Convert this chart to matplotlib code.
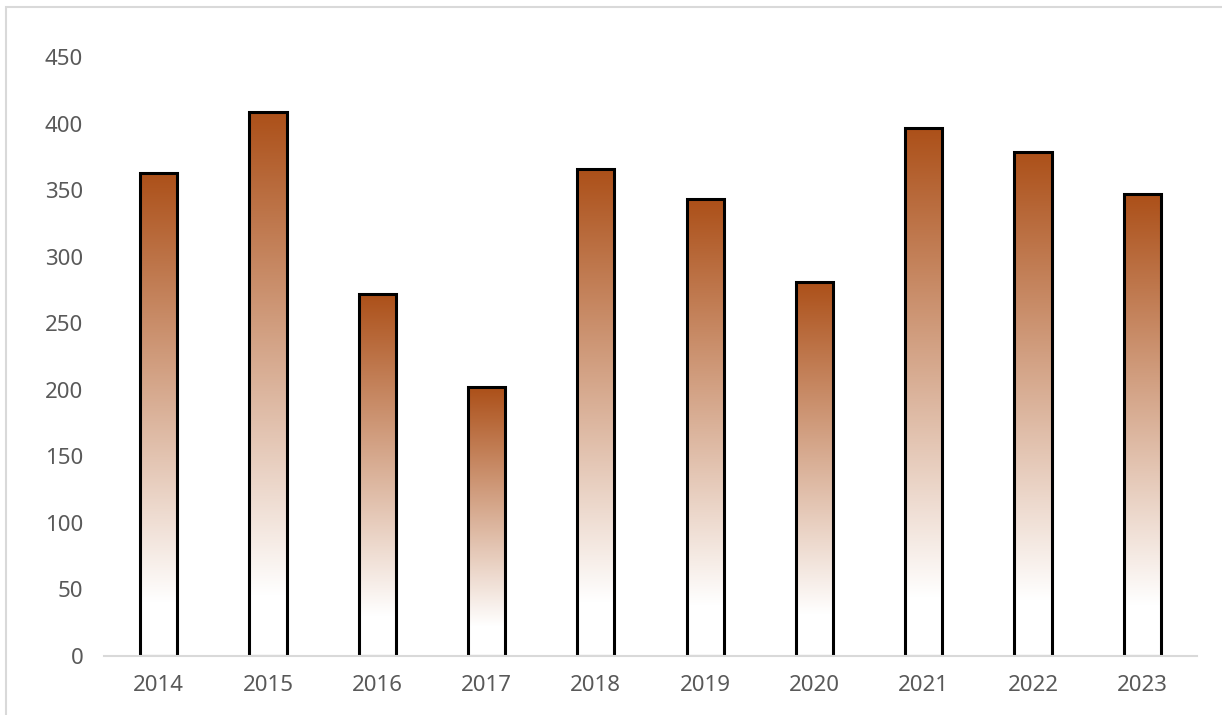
import matplotlib
matplotlib.use("Agg")
import matplotlib.pyplot as plt
import numpy as np
from matplotlib.colors import LinearSegmentedColormap
from matplotlib.patches import Rectangle

years = ["2014", "2015", "2016", "2017", "2018", "2019", "2020", "2021", "2022", "2023"]
values = [363, 409, 272, 202, 366, 343, 281, 397, 379, 347]
yticks = [0, 50, 100, 150, 200, 250, 300, 350, 400, 450]

plt.rcParams['font.family'] = ['Noto Sans', 'DejaVu Sans']

fig = plt.figure(figsize=(12.22, 7.15), dpi=100)
ax = fig.add_axes([104/1222, (715-656)/715, (1197-104)/1222, (656-57)/715])

cmap = LinearSegmentedColormap.from_list(
    "grad", [(0.0, "#FFFFFF"), (0.11, "#FFFFFF"), (1.0, "#AC5019")])

width = 0.34
x = np.arange(len(years))
bars = ax.bar(x, values, width=width, facecolor="none", edgecolor="black",
              linewidth=2.2, zorder=3)
grad = np.linspace(0, 1, 256).reshape(-1, 1)
for b in bars:
    x0, w, h = b.get_x(), b.get_width(), b.get_height()
    ax.imshow(grad, cmap=cmap, origin="lower", aspect="auto",
              extent=[x0, x0 + w, 0, h], zorder=2, interpolation="bilinear")

ax.set_xlim(-0.5, len(years) - 0.5)
ax.set_ylim(0, 450)
ax.set_xticks(x)
ax.set_xticklabels(years)
ax.set_yticks(yticks)
for s in ["top", "right", "left"]:
    ax.spines[s].set_visible(False)
ax.spines["bottom"].set_color("#D9D9D9")
ax.spines["bottom"].set_linewidth(1.5)
ax.spines["bottom"].set_zorder(4)
ax.tick_params(axis="both", length=0, labelsize=16, labelcolor="#595959")
ax.tick_params(axis="x", pad=14)
ax.tick_params(axis="y", pad=15)

fig.patches.append(Rectangle((6/1222, -0.1), 1.2, (715-7)/715 + 0.1,
                             transform=fig.transFigure, fill=False,
                             edgecolor="#D9D9D9", linewidth=1.5))

fig.savefig("out.png", dpi=100)
